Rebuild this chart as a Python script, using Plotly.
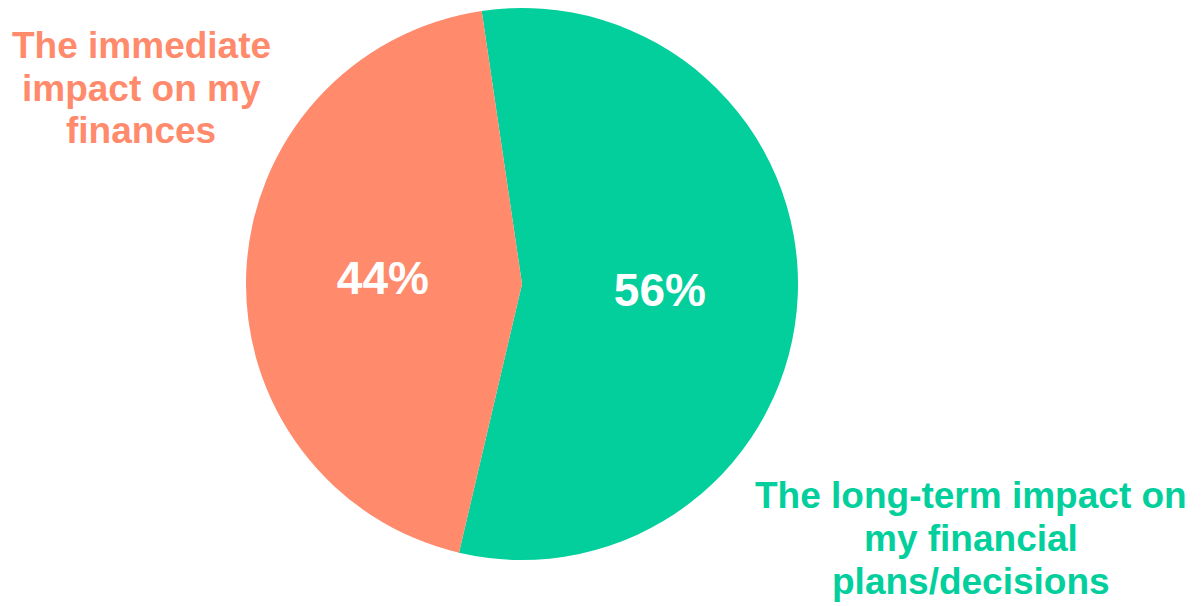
import plotly.graph_objects as go

labels = ['The long-term impact on my financial plans/decisions', 'The immediate impact on my finances']
values = [56, 44]
colors = ['#02CF9C', '#FF8A6C']

# label text split into lines, as on the slide
green_lines = ['The long-term impact on', 'my financial', 'plans/decisions']
orange_lines = ['The immediate', 'impact on my', 'finances']

W, H = 1202, 606
OFF = 8  # page body margin pushes the figure 8px right/down

fig = go.Figure()
fig.add_trace(go.Pie(
    labels=labels,
    values=values,
    marker=dict(colors=colors, line=dict(width=0)),
    sort=False,
    direction='clockwise',
    rotation=-8.4,
    texttemplate='%{percent:.0%}',
    textposition='inside',
    insidetextorientation='horizontal',
    textfont=dict(family='Liberation Sans', size=46, color='white', weight='bold'),
    hoverinfo='label+percent',
    showlegend=False,
    domain=dict(x=[(246 - OFF) / W, (798 - OFF) / W],
                y=[1 - 552 / H, 1]),
))

def add_lines(lines, cx, cy_first, color):
    for i, t in enumerate(lines):
        fig.add_annotation(
            text=t, xref='paper', yref='paper',
            x=(cx - OFF) / W, y=1 - (cy_first - OFF + 43 * i) / H,
            xanchor='center', yanchor='middle', showarrow=False,
            font=dict(family='Liberation Sans', size=37, color=color, weight='bold'),
        )

add_lines(orange_lines, 141, 45, colors[1])
add_lines(green_lines, 971, 495, colors[0])

fig.update_layout(
    width=W, height=H,
    margin=dict(l=0, r=0, t=0, b=0),
    paper_bgcolor='white',
    plot_bgcolor='white',
)

fig.write_html("out.html")
